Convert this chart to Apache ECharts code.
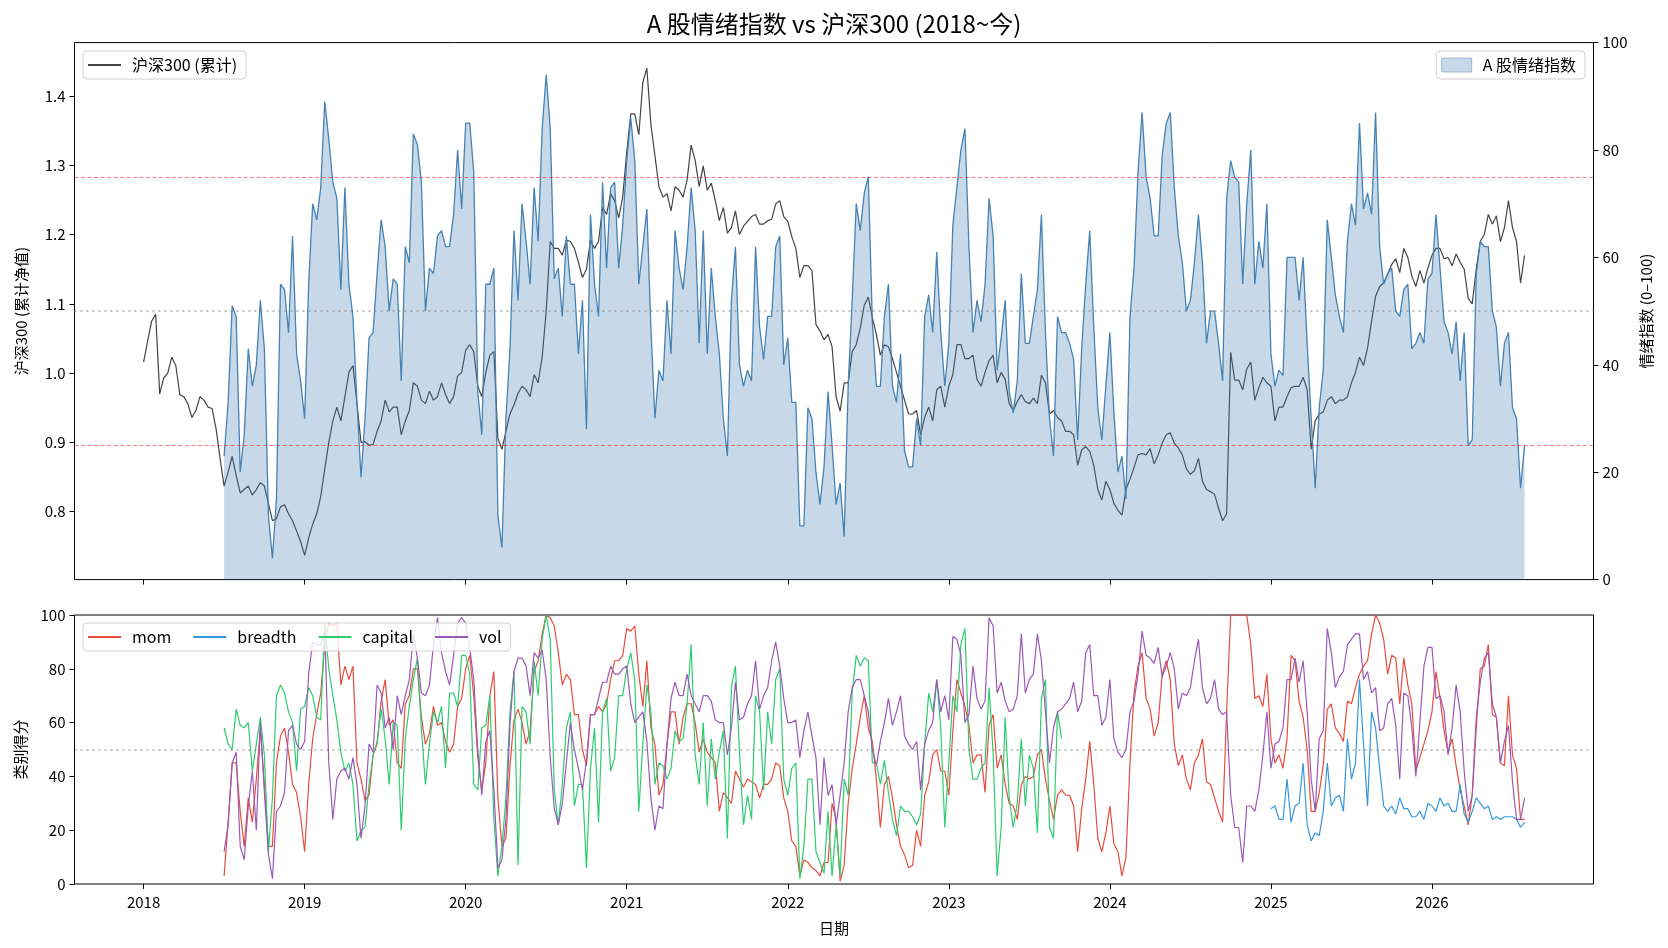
<!DOCTYPE html>
<html>
<head>
<meta charset="utf-8">
<title>A 股情绪指数 vs 沪深300</title>
<script src="https://cdn.jsdelivr.net/npm/echarts@6/dist/echarts.min.js"></script>
<style>
html, body { margin: 0; padding: 0; background: #fff; }
#chart { width: 1668px; height: 948px; }
</style>
</head>
<body>
<div id="chart"></div>
<script>
// every series is sampled each 0.025 year; each lists its first sample year
const step = 0.025;
const yearTicks = [2018, 2019, 2020, 2021, 2022, 2023, 2024, 2025, 2026];
const hsTicks = [0.8, 0.9, 1.0, 1.1, 1.2, 1.3, 1.4];

// 沪深300 cumulative, from 2018.00 (one row per half year)
const hs300Start = 2018.0;
const hs300 = [
    1.016, 1.046, 1.075, 1.085, 0.97, 0.993, 1.00, 1.023, 1.011, 0.969, 0.966, 0.956, 0.936, 0.946, 0.966, 0.961, 0.951, 0.949, 0.92, 0.877,
    0.837, 0.857, 0.88, 0.852, 0.827, 0.832, 0.837, 0.824, 0.832, 0.842, 0.837, 0.812, 0.787, 0.790, 0.807, 0.810, 0.797, 0.787, 0.772, 0.757,
    0.737, 0.762, 0.782, 0.797, 0.822, 0.862, 0.90, 0.931, 0.951, 0.931, 0.966, 1.001, 1.011, 0.956, 0.90, 0.901, 0.896, 0.897, 0.916, 0.931,
    0.961, 0.944, 0.951, 0.951, 0.911, 0.931, 0.946, 0.986, 0.981, 0.961, 0.956, 0.974, 0.961, 0.966, 0.986, 0.969, 0.956, 0.966, 0.996, 1.001,
    1.033, 1.041, 1.031, 0.981, 0.966, 1.001, 1.026, 1.031, 0.906, 0.89, 0.916, 0.941, 0.954, 0.971, 0.981, 0.976, 0.966, 0.998, 0.986, 1.023,
    1.090, 1.190, 1.180, 1.180, 1.170, 1.192, 1.190, 1.180, 1.160, 1.138, 1.150, 1.192, 1.180, 1.190, 1.239, 1.229, 1.259, 1.249, 1.224, 1.254,
    1.319, 1.374, 1.374, 1.344, 1.42, 1.44, 1.359, 1.314, 1.269, 1.254, 1.259, 1.234, 1.269, 1.264, 1.254, 1.279, 1.329, 1.307, 1.269, 1.299,
    1.264, 1.274, 1.249, 1.220, 1.239, 1.202, 1.210, 1.234, 1.200, 1.212, 1.219, 1.226, 1.229, 1.215, 1.215, 1.220, 1.222, 1.244, 1.249, 1.226,
    1.219, 1.197, 1.180, 1.138, 1.155, 1.155, 1.148, 1.070, 1.061, 1.048, 1.056, 1.038, 0.966, 0.945, 0.986, 0.986, 1.031, 1.041, 1.065, 1.098,
    1.110, 1.080, 1.056, 1.026, 1.041, 1.038, 1.021, 1.001, 0.981, 0.961, 0.941, 0.941, 0.946, 0.911, 0.936, 0.951, 0.931, 0.976, 0.981, 0.951,
    0.981, 0.998, 1.041, 1.041, 1.021, 1.021, 1.026, 0.991, 0.981, 1.001, 1.018, 1.026, 0.986, 1.001, 0.991, 0.956, 0.946, 0.959, 0.969, 0.959,
    0.956, 0.964, 0.956, 0.997, 0.986, 0.941, 0.946, 0.936, 0.931, 0.916, 0.916, 0.911, 0.867, 0.889, 0.894, 0.887, 0.867, 0.832, 0.817, 0.844,
    0.832, 0.812, 0.802, 0.795, 0.832, 0.847, 0.864, 0.882, 0.884, 0.882, 0.891, 0.869, 0.882, 0.899, 0.911, 0.914, 0.899, 0.892, 0.882, 0.862,
    0.854, 0.859, 0.877, 0.844, 0.832, 0.829, 0.825, 0.805, 0.787, 0.797, 1.03, 0.99, 0.99, 0.976, 1.006, 1.016, 0.961, 0.979, 0.994, 0.986,
    0.981, 0.931, 0.951, 0.951, 0.966, 0.979, 0.981, 0.981, 0.994, 0.976, 0.89, 0.931, 0.941, 0.944, 0.961, 0.966, 0.956, 0.961, 0.961, 0.966,
    0.986, 1.001, 1.023, 1.011, 1.036, 1.075, 1.111, 1.125, 1.130, 1.143, 1.157, 1.165, 1.145, 1.180, 1.167, 1.140, 1.125, 1.148, 1.130, 1.152,
    1.170, 1.180, 1.180, 1.165, 1.167, 1.155, 1.172, 1.160, 1.150, 1.108, 1.100, 1.150, 1.190, 1.200, 1.229, 1.215, 1.227, 1.190, 1.210, 1.249,
    1.210, 1.190, 1.13, 1.17
];

// sentiment index and category scores, from 2018.50
const scoreStart = 2018.5;
const sentiment = [
    23, 33, 51, 49, 20, 27, 43, 36, 40, 52, 43, 12, 4, 15, 55, 54, 46, 64, 42, 37,
    30, 55, 70, 67, 73, 89, 82, 74, 71, 54, 73, 55, 49, 33, 19, 30, 45, 46, 57, 67,
    62, 50, 56, 55, 37, 62, 59, 83, 81, 74, 50, 58, 57, 64, 65, 62, 62, 68, 80, 69,
    85, 85, 76, 35, 27, 55, 55, 58, 12, 6, 30, 43, 65, 52, 70, 63, 55, 73, 63, 84,
    94, 84, 56, 58, 49, 64, 55, 55, 42, 52, 28, 68, 55, 49, 74, 58, 73, 74, 58, 66,
    78, 86, 78, 55, 62, 69, 47, 30, 39, 37, 52, 42, 65, 58, 54, 62, 73, 65, 44, 65,
    42, 58, 49, 42, 30, 23, 52, 62, 40, 36, 39, 37, 62, 47, 41, 49, 49, 62, 64, 40,
    45, 33, 33, 10, 10, 32, 30, 20, 14, 21, 35, 25, 14, 18, 8, 36, 52, 70, 65, 72,
    75, 48, 36, 36, 49, 55, 36, 33, 42, 24, 21, 21, 30, 25, 49, 53, 46, 61, 46, 36,
    44, 66, 73, 80, 84, 62, 46, 52, 48, 55, 71, 64, 39, 45, 52, 35, 31, 37, 57, 44,
    44, 49, 54, 68, 46, 30, 23, 49, 46, 46, 44, 41, 26, 43, 55, 65, 47, 32, 26, 36,
    46, 31, 20, 23, 15, 49, 58, 76, 87, 75, 71, 64, 64, 79, 85, 87, 73, 64, 59, 50,
    52, 59, 68, 59, 44, 50, 50, 44, 37, 71, 78, 75, 74, 55, 70, 80, 55, 63, 58, 70,
    42, 36, 39, 38, 60, 60, 60, 52, 60, 44, 30, 17, 32, 39, 67, 60, 53, 49, 46, 63,
    70, 66, 85, 69, 72, 68, 87, 62, 55, 57, 58, 50, 49, 54, 55, 43, 44, 46, 44, 56,
    57, 68, 58, 48, 46, 42, 48, 37, 46, 25, 26, 57, 63, 62, 62, 50, 47, 36, 44, 46,
    32, 30, 17, 25
];

const mom = [
    3, 23, 45, 45, 27, 14, 32, 23, 39, 58, 37, 14, 14, 45, 55, 58, 49, 37, 34, 25,
    12, 37, 54, 63, 71, 89, 97, 96, 97, 74, 81, 76, 81, 45, 39, 31, 33, 48, 52, 68,
    76, 59, 61, 45, 43, 67, 70, 80, 80, 62, 52, 56, 66, 59, 60, 53, 49, 52, 66, 69,
    80, 85, 70, 47, 35, 45, 70, 79, 32, 14, 17, 44, 61, 65, 60, 52, 57, 79, 83, 93,
    100, 99, 96, 86, 74, 78, 76, 63, 63, 50, 44, 63, 63, 66, 64, 67, 76, 83, 83, 85,
    95, 94, 96, 78, 66, 83, 58, 52, 33, 37, 52, 64, 64, 52, 62, 67, 67, 60, 49, 54,
    49, 47, 45, 27, 34, 32, 30, 42, 39, 36, 39, 38, 37, 32, 37, 37, 39, 45, 44, 32,
    27, 16, 14, 3, 9, 8, 6, 5, 3, 8, 8, 30, 24, 1, 7, 30, 43, 52, 62, 70,
    58, 53, 39, 21, 37, 40, 32, 22, 14, 11, 6, 7, 20, 14, 33, 38, 48, 50, 42, 42,
    33, 57, 76, 71, 66, 59, 45, 48, 48, 34, 59, 63, 43, 48, 37, 30, 29, 24, 37, 40,
    39, 40, 48, 50, 39, 31, 24, 33, 35, 33, 33, 29, 12, 28, 39, 53, 37, 17, 12, 19,
    29, 15, 12, 3, 10, 45, 71, 81, 86, 69, 65, 55, 60, 78, 83, 76, 52, 44, 48, 39,
    35, 45, 48, 54, 38, 37, 32, 27, 23, 64, 100, 100, 100, 100, 100, 89, 69, 70, 66, 78,
    54, 45, 48, 43, 54, 85, 83, 68, 62, 50, 27, 27, 34, 44, 65, 67, 58, 56, 53, 68,
    67, 73, 78, 81, 83, 93, 100, 97, 91, 78, 85, 84, 67, 84, 74, 67, 42, 47, 52, 57,
    64, 79, 69, 57, 49, 54, 44, 35, 29, 22, 33, 58, 80, 81, 89, 63, 62, 45, 44, 70,
    48, 43, 24, 24
];

// capital stops in 2023
const capital = [
    58, 52, 50, 65, 59, 58, 60, 42, 52, 62, 48, 12, 32, 70, 74, 71, 64, 60, 42, 65,
    66, 73, 70, 62, 61, 97, 80, 70, 61, 49, 42, 45, 37, 16, 20, 21, 37, 48, 53, 65,
    54, 37, 60, 59, 20, 54, 66, 76, 84, 58, 37, 52, 64, 60, 66, 43, 71, 71, 66, 85,
    85, 78, 37, 35, 58, 59, 70, 24, 3, 14, 32, 64, 79, 7, 66, 64, 52, 83, 70, 91,
    100, 91, 35, 22, 37, 58, 64, 29, 37, 37, 6, 43, 58, 23, 64, 69, 42, 47, 70, 70,
    80, 86, 76, 27, 52, 74, 64, 37, 45, 44, 39, 43, 57, 53, 54, 67, 89, 48, 37, 60,
    29, 54, 39, 49, 57, 17, 73, 81, 49, 22, 33, 24, 70, 64, 35, 64, 52, 76, 80, 39,
    33, 43, 45, 2, 14, 39, 39, 12, 8, 4, 27, 3, 22, 3, 39, 33, 71, 85, 81, 84,
    83, 45, 45, 37, 46, 34, 24, 18, 29, 27, 27, 25, 22, 26, 52, 71, 64, 76, 58, 21,
    45, 70, 64, 89, 95, 50, 39, 39, 43, 45, 73, 49, 3, 21, 62, 32, 21, 30, 54, 29,
    48, 43, 19, 69, 76, 21, 17, 64, 54
];

const vol = [
    12, 22, 45, 49, 14, 9, 29, 42, 20, 60, 34, 11, 2, 27, 29, 34, 57, 59, 52, 50,
    53, 78, 90, 89, 89, 94, 45, 24, 39, 42, 43, 39, 47, 37, 17, 29, 52, 49, 74, 71,
    58, 62, 50, 70, 63, 70, 76, 93, 84, 71, 70, 74, 89, 99, 86, 79, 74, 85, 97, 99,
    97, 88, 76, 50, 33, 53, 57, 35, 6, 9, 24, 59, 79, 84, 84, 81, 70, 86, 84, 87,
    76, 47, 28, 22, 30, 45, 60, 50, 43, 35, 46, 63, 63, 69, 75, 75, 81, 78, 78, 80,
    81, 67, 60, 62, 64, 53, 32, 20, 29, 28, 52, 69, 75, 70, 70, 78, 70, 67, 64, 70,
    70, 68, 61, 60, 60, 48, 58, 75, 61, 62, 67, 70, 83, 65, 70, 73, 83, 90, 81, 69,
    60, 60, 61, 47, 57, 64, 55, 47, 22, 47, 33, 37, 22, 33, 45, 64, 73, 76, 76, 70,
    64, 50, 44, 53, 60, 69, 59, 64, 70, 55, 52, 50, 53, 35, 52, 57, 60, 76, 64, 70,
    61, 92, 91, 85, 60, 63, 81, 69, 65, 68, 99, 96, 71, 75, 68, 64, 65, 70, 93, 71,
    76, 78, 93, 83, 64, 45, 58, 64, 65, 67, 69, 75, 64, 68, 86, 89, 70, 70, 59, 62,
    76, 54, 49, 47, 50, 64, 68, 78, 94, 85, 84, 82, 88, 77, 81, 86, 80, 65, 71, 70,
    73, 83, 91, 73, 67, 69, 76, 65, 63, 64, 33, 21, 21, 8, 29, 29, 27, 35, 48, 64,
    43, 52, 53, 58, 76, 76, 84, 75, 83, 64, 39, 27, 54, 57, 95, 86, 73, 77, 79, 89,
    91, 93, 93, 76, 79, 71, 73, 57, 58, 67, 69, 59, 39, 71, 70, 58, 40, 60, 81, 88,
    88, 69, 70, 64, 48, 58, 74, 64, 42, 27, 33, 62, 75, 84, 86, 67, 62, 45, 53, 59,
    38, 24, 24, 32
];

// breadth starts in 2025
const breadthStart = 2025.0;
const breadth = [
    28, 29, 24, 24, 39, 23, 29, 30, 45, 22, 16, 19, 18, 27, 45, 29, 32, 33, 27, 54,
    39, 45, 76, 52, 29, 64, 58, 43, 29, 27, 29, 26, 32, 28, 28, 25, 25, 27, 24, 30,
    29, 27, 32, 29, 30, 27, 27, 37, 26, 23, 27, 32, 30, 28, 29, 24, 25, 24, 25, 25,
    25, 24, 21, 23
];

const toPairs = (arr, start) => arr.map((v, i) => [+(start + i * step).toFixed(3), v]);

const FONT = '"Noto Sans CJK SC", "Noto Sans", sans-serif';
const xMin = 2017.571, xMax = 2027.003;

const legendBox = {
    backgroundColor: 'rgba(255,255,255,0.8)',
    borderColor: '#d0d0d0',
    borderWidth: 1,
    borderRadius: 4,
    padding: [6, 9, 6, 5],
    itemWidth: 33,
    itemHeight: 2,
    z: 20,
    textStyle: { fontSize: 16, color: '#000', fontFamily: FONT, padding: [0, 0, 0, 6] }
};

const lineSeries = (name, data, color, z) => ({
    name: name,
    type: 'line',
    xAxisIndex: 1,
    yAxisIndex: 2,
    data: data,
    showSymbol: false,
    color: color,
    lineStyle: { width: 1.2, color: color },
    z: z
});

const chart = echarts.init(document.getElementById('chart'));

const option = {
    animation: false,
    textStyle: { fontFamily: FONT },
    title: {
        text: 'A 股情绪指数 vs 沪深300 (2018~今)',
        left: 'center',
        top: 7,
        textStyle: { fontSize: 24, fontWeight: 'normal', color: '#000', fontFamily: FONT }
    },
    legend: [
        Object.assign({}, legendBox, {
            left: 83, top: 51,
            data: [{ name: '沪深300 (累计)', icon: 'rect', itemStyle: { color: '#444' } }]
        }),
        Object.assign({}, legendBox, {
            right: 83, top: 51,
            itemHeight: 14,
            itemWidth: 30,
            data: [{
                name: 'A 股情绪指数', icon: 'rect',
                itemStyle: { color: 'rgba(70,130,180,0.3)', borderColor: 'rgba(70,130,180,0.45)', borderWidth: 1 }
            }]
        }),
        Object.assign({}, legendBox, {
            left: 83, top: 623,
            itemGap: 22,
            data: ['mom', 'breadth', 'capital', 'vol'].map(n => ({ name: n, icon: 'rect' }))
        })
    ],
    grid: [
        { left: 74.5, top: 42.6, width: 1519, height: 537, show: true, borderColor: '#000', borderWidth: 1 },
        { left: 74.5, top: 615, width: 1519, height: 269, show: true, borderColor: '#000', borderWidth: 1 }
    ],
    xAxis: [
        {
            type: 'value', gridIndex: 0, min: xMin, max: xMax,
            axisLine: { show: false },
            axisTick: { show: true, length: 5, customValues: yearTicks, lineStyle: { color: '#000' } },
            axisLabel: { show: false },
            splitLine: { show: false }
        },
        {
            type: 'value', gridIndex: 1, min: xMin, max: xMax,
            name: '日期', nameLocation: 'middle', nameGap: 37,
            nameTextStyle: { fontSize: 15, color: '#000' },
            axisLine: { show: false },
            axisTick: { show: true, length: 5, customValues: yearTicks, lineStyle: { color: '#000' } },
            axisLabel: { customValues: yearTicks, fontSize: 15, color: '#000', margin: 11, formatter: v => String(Math.round(v)) },
            splitLine: { show: false }
        }
    ],
    yAxis: [
        {
            type: 'value', gridIndex: 0, position: 'left', min: 0.702, max: 1.477,
            name: '沪深300 (累计净值)', nameLocation: 'middle', nameGap: 46, nameRotate: 90,
            nameTextStyle: { fontSize: 15, color: '#000' },
            axisLine: { show: false },
            axisTick: { show: true, length: 5, customValues: hsTicks, lineStyle: { color: '#000' } },
            axisLabel: { customValues: hsTicks, fontSize: 15, color: '#000', margin: 9, formatter: v => v.toFixed(1) },
            splitLine: { show: false }
        },
        {
            type: 'value', gridIndex: 0, position: 'right', min: 0, max: 100, interval: 20,
            name: '情绪指数 (0–100)', nameLocation: 'middle', nameGap: 43, nameRotate: 90,
            nameTextStyle: { fontSize: 15, color: '#000' },
            axisLine: { show: false },
            axisTick: { show: true, length: 5, lineStyle: { color: '#000' } },
            axisLabel: { fontSize: 15, color: '#000', margin: 9 },
            splitLine: { show: false }
        },
        {
            type: 'value', gridIndex: 1, position: 'left', min: 0, max: 100, interval: 20,
            name: '类别得分', nameLocation: 'middle', nameGap: 47, nameRotate: 90,
            nameTextStyle: { fontSize: 15, color: '#000' },
            axisLine: { show: false },
            axisTick: { show: true, length: 5, lineStyle: { color: '#000' } },
            axisLabel: { fontSize: 15, color: '#000', margin: 9 },
            splitLine: { show: false }
        }
    ],
    series: [
        {
            name: '沪深300 (累计)',
            type: 'line',
            xAxisIndex: 0,
            yAxisIndex: 0,
            data: toPairs(hs300, hs300Start),
            showSymbol: false,
            color: '#444',
            lineStyle: { width: 1.2, color: '#444' },
            z: 2
        },
        {
            name: 'A 股情绪指数',
            type: 'line',
            xAxisIndex: 0,
            yAxisIndex: 1,
            data: toPairs(sentiment, scoreStart),
            showSymbol: false,
            color: '#4682b4',
            lineStyle: { width: 1.3, color: '#4682b4' },
            areaStyle: { color: '#4682b4', opacity: 0.3, origin: 'start' },
            z: 3,
            markLine: {
                silent: true,
                symbol: 'none',
                label: { show: false },
                data: [
                    { yAxis: 75, lineStyle: { color: 'rgba(255,0,0,0.5)', type: [4, 2.5], width: 1 } },
                    { yAxis: 25, lineStyle: { color: 'rgba(255,0,0,0.5)', type: [4, 2.5], width: 1 } },
                    { yAxis: 50, lineStyle: { color: 'rgba(128,128,128,0.5)', type: [2, 4], width: 2 } }
                ]
            }
        },
        Object.assign(lineSeries('mom', toPairs(mom, scoreStart), '#e74c3c', 2), {
            markLine: {
                silent: true,
                symbol: 'none',
                label: { show: false },
                data: [{ yAxis: 50, lineStyle: { color: 'rgba(128,128,128,0.5)', type: [2, 4], width: 2 } }]
            }
        }),
        lineSeries('breadth', toPairs(breadth, breadthStart), '#3498db', 3),
        lineSeries('capital', toPairs(capital, scoreStart), '#2ecc71', 4),
        lineSeries('vol', toPairs(vol, scoreStart), '#9b59b6', 5)
    ]
};

chart.setOption(option);
</script>
</body>
</html>
